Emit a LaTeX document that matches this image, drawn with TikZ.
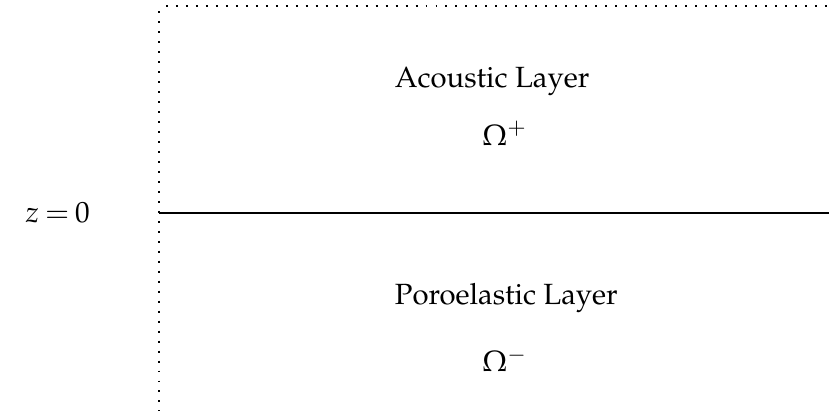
\documentclass[tikz,border=0pt]{standalone}
\usepackage[T1]{fontenc}
\usepackage{mathpazo}
\usetikzlibrary{positioning}

\begin{document}
\begin{tikzpicture}[
  font=\fontsize{10.4pt}{12.5pt}\selectfont,
  lbl/.style={inner sep=0pt, anchor=base west},
  sym/.style={inner sep=0pt, anchor=base},
  edge/.style={dash pattern=on 0.7pt off 2.85pt, line width=0.7pt},
  iface/.style={line width=0.75pt},
]
\useasboundingbox (0,0) rectangle (10.3625,-5.2375);
% ---- domain frame ----
\coordinate (top) at (2.075,-0.075);
\coordinate (topr) at (10.3625,-0.075);
\coordinate (lt) at (1.9875,-0.14);
\coordinate (lb) at (1.9875,-5.14);
\coordinate (il) at (1.9875,-2.66);
\coordinate (ir) at (10.3625,-2.66);

\draw[edge] (top) -- (topr);
\draw[edge] (lt) -- (lb);

% ---- interface ----
\draw[iface] (il) -- (ir);
\node[sym] (zlab) at (0.72,-2.7875) {$z\mkern-1.5mu=\mkern-1.5mu0$};

% ---- layers ----
\node[lbl] (acou) at (4.93,-1.1) {Acoustic Layer};
\node[sym] (omp) at (6.31,-1.82) {$\Omega^{+}$};
\node[lbl] (poro) at (4.93,-3.8125) {Poroelastic Layer};
\node[sym] (omm) at (6.31,-4.65) {$\Omega^{-}$};
\end{tikzpicture}
\end{document}
